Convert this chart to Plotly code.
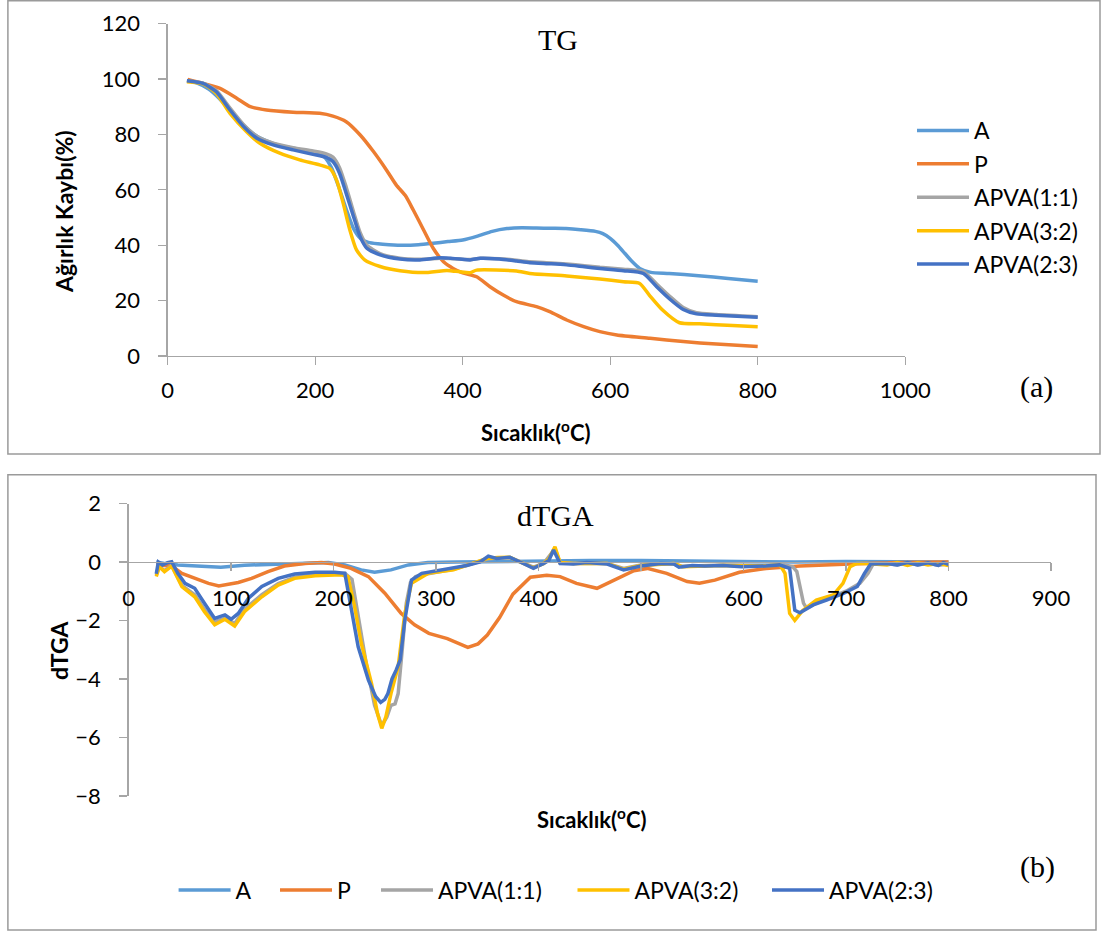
import plotly.graph_objects as go

# ---------------- TG data (temperature °C, weight %) ----------------
tg_A_T = [27, 40, 55, 70, 85, 100, 120, 140, 160, 180, 200, 212, 222, 232, 242, 252, 262, 272, 285, 300, 320, 340, 360, 380, 400, 420, 440, 460, 480, 500, 520, 540, 560, 580, 590, 600, 610, 620, 630, 640, 655, 680, 720, 760, 800]
tg_A_v = [99.5, 98.5, 96.5, 93, 88.5, 84, 79.5, 77, 75.5, 74.5, 73.3, 72, 68, 61, 53, 46, 42.3, 41, 40.5, 40.2, 40, 40.2, 40.7, 41.3, 41.9, 43.3, 45, 46, 46.3, 46.2, 46.1, 46, 45.6, 45, 44.2, 42.5, 40, 37, 34, 31.6, 30.2, 29.8, 29, 28, 27]

tg_P_T = [27, 48, 71, 94, 112, 134, 170, 206, 224, 242, 261, 279, 297, 310, 322, 333, 347, 360, 374, 387, 400, 419, 437, 455, 473, 500, 518, 541, 564, 586, 609, 654, 699, 744, 800]
tg_P_v = [99.8, 98.4, 96.6, 93, 90, 88.8, 88, 87.6, 86.6, 84.6, 79.8, 73.8, 67, 61.7, 58, 52.7, 45.5, 38.9, 34, 31.6, 30, 28.6, 25, 22, 19.6, 17.8, 16, 13, 10.6, 8.8, 7.6, 6.4, 5.2, 4.3, 3.4]

tg_B_T = [26, 48, 66, 84.5, 103, 121, 143, 170, 197, 215, 224, 233, 242, 252, 261, 270, 288, 315, 342, 369, 383, 396, 410, 424, 450, 473, 491, 520, 541, 565, 586, 618, 645, 663, 681, 699, 717, 744, 800]
tg_11_v = [99.4, 98.5, 95.8, 89.5, 83.5, 79.3, 76.8, 75.2, 74, 73, 71.8, 68, 61, 52, 44.5, 40, 37, 35.3, 34.9, 35.3, 35.2, 35, 34.8, 35.3, 35.1, 34.6, 34, 33.6, 33.2, 32.6, 32, 31.3, 30.5, 26, 21.5, 17.5, 15.6, 15, 14.2]
tg_23_v = [99.4, 98.4, 95.4, 88.8, 82.8, 78.6, 76.2, 74.4, 72.8, 71.7, 70.2, 66, 58.7, 50.3, 43, 38.9, 36.5, 35, 34.7, 35.5, 35.3, 35, 34.7, 35.3, 35, 34.3, 33.7, 33.3, 32.9, 32.2, 31.6, 30.8, 29.8, 25, 20.5, 16.8, 15.2, 14.7, 14]

tg_32_T = [26, 48, 66, 84.5, 107, 125, 152, 179, 206, 220, 229, 238, 247, 256, 267, 288, 315, 347, 374, 383, 396, 410, 419, 473, 491, 541, 586, 618, 640, 653, 671, 694, 721, 766, 800]
tg_32_v = [99, 98.2, 94.8, 87.6, 81, 76.8, 73.2, 70.8, 69, 67.7, 63.5, 55.1, 45.5, 38.3, 34.7, 32.3, 30.8, 30.1, 30.8, 30.8, 30.4, 30.1, 31, 30.7, 29.8, 28.9, 27.8, 26.8, 26.2, 22, 16.6, 12, 11.6, 11, 10.6]

# ---------------- dTGA data ----------------
d_A_T = [27, 35, 48, 60, 74, 90, 113, 146, 170, 195, 211, 227, 240, 256, 273, 292, 320, 360, 400, 450, 500, 550, 600, 650, 700, 750, 800]
d_A_v = [0, -0.05, -0.1, -0.13, -0.16, -0.18, -0.11, -0.07, -0.04, -0.02, -0.1, -0.27, -0.35, -0.27, -0.1, -0.02, 0, 0.02, 0.04, 0.05, 0.05, 0.03, 0.02, 0, 0.02, 0.01, 0]

d_P_T = [27, 42, 52, 65, 78, 88, 100, 107, 120, 136, 152, 172, 188, 201, 217, 234, 250, 266, 279, 293, 311, 331, 341, 350, 362, 375, 392, 408, 421, 437, 457, 473, 493, 506, 525, 545, 557, 572, 596, 622, 655, 704, 752, 800]
d_P_v = [-0.1, -0.14, -0.39, -0.56, -0.73, -0.82, -0.75, -0.7, -0.56, -0.33, -0.14, -0.05, -0.02, -0.07, -0.22, -0.5, -1.07, -1.76, -2.15, -2.44, -2.62, -2.92, -2.8, -2.5, -1.9, -1.1, -0.52, -0.45, -0.5, -0.73, -0.9, -0.62, -0.3, -0.22, -0.39, -0.67, -0.73, -0.62, -0.35, -0.22, -0.14, -0.07, -0.02, 0]

d_11_T = [27, 30, 35, 42, 52, 64.5, 74, 84, 94, 103.5, 113, 130, 146, 162, 182, 207, 211, 218, 224, 232, 240, 247, 252, 256, 260, 263, 267, 271, 275, 280, 292, 317, 350, 360, 372, 382, 395, 405, 416, 421, 434, 467, 483, 500, 532, 540, 580, 620, 640, 648, 652, 658.5, 661.5, 671, 687.5, 700, 713.5, 721.5, 726.5, 740, 750, 760, 770, 780, 790, 800]
d_11_v = [-0.45, -0.15, -0.3, -0.12, -0.8, -1.12, -1.62, -2.04, -1.93, -2.1, -1.62, -1.12, -0.74, -0.52, -0.44, -0.4, -0.39, -0.6, -1.9, -3.5, -4.9, -5.6, -5.3, -4.9, -4.85, -4.5, -3.0, -1.4, -0.7, -0.5, -0.4, -0.25, 0.1, 0.14, 0.15, 0, -0.18, -0.05, 0.45, -0.03, -0.05, -0.05, -0.22, -0.1, -0.05, -0.15, -0.1, -0.12, -0.1, -0.16, -0.33, -1.41, -1.58, -1.41, -1.19, -1.0, -0.73, -0.39, -0.07, -0.05, -0.1, -0.03, -0.1, -0.04, -0.12, -0.05]

d_32_T = [27, 30, 35, 42, 52, 64.5, 74, 84, 94, 103.5, 113, 130, 146, 162, 182, 207.5, 214, 220.5, 227, 237, 243, 247, 251, 256, 263, 269.5, 276, 292, 317, 349.5, 360, 372, 382, 395, 405, 410, 416, 421, 434, 467, 483, 500, 532, 540, 580, 620, 635.5, 640.5, 645, 650, 658, 671, 687.5, 697, 704, 710.5, 720, 740, 750, 760, 770, 780, 790, 800]
d_32_v = [-0.5, -0.16, -0.33, -0.14, -0.84, -1.19, -1.7, -2.15, -1.96, -2.19, -1.7, -1.19, -0.79, -0.56, -0.47, -0.44, -0.5, -1.53, -2.78, -4.15, -5.2, -5.69, -5.3, -4.5, -3.58, -1.76, -0.73, -0.39, -0.27, 0.12, 0.15, 0.16, 0, -0.2, -0.05, 0.1, 0.52, -0.02, -0.05, -0.05, -0.25, -0.12, -0.05, -0.16, -0.12, -0.14, -0.1, -0.39, -1.76, -2.0, -1.65, -1.3, -1.13, -0.73, -0.16, -0.05, -0.05, -0.1, -0.02, -0.12, -0.03, -0.1, -0.05, -0.12]

d_23_T = [27, 29, 33, 38, 42, 48, 55, 64.5, 74, 84, 89, 94, 100, 107, 117, 130, 146, 162, 182, 201, 211, 217, 224, 234, 241, 246, 250, 253, 257, 261, 265, 269.5, 276, 286, 300, 317, 330, 343, 351, 359, 372, 382, 395, 405, 410, 414.6, 421, 434, 447, 467, 483, 500, 519, 532, 537, 550, 562, 580, 598, 622, 635, 645, 650, 655, 668, 681, 698, 711, 718, 724, 740, 750, 760, 770, 780, 790, 795, 800]
d_23_v = [-0.4, 0, -0.1, -0.02, 0.01, -0.39, -0.73, -0.9, -1.41, -1.93, -1.87, -1.81, -1.96, -1.76, -1.24, -0.84, -0.56, -0.41, -0.35, -0.35, -0.39, -1.53, -2.9, -4.04, -4.6, -4.8, -4.7, -4.5, -4.0, -3.7, -3.35, -1.98, -0.62, -0.39, -0.3, -0.22, -0.12, 0, 0.2, 0.12, 0.16, 0, -0.22, -0.05, 0.05, 0.41, -0.05, -0.07, -0.02, -0.07, -0.27, -0.14, -0.05, -0.07, -0.18, -0.12, -0.14, -0.12, -0.16, -0.14, -0.1, -0.22, -1.65, -1.74, -1.47, -1.3, -1.07, -0.84, -0.39, -0.07, -0.05, -0.1, -0.02, -0.1, -0.03, -0.12, -0.02, -0.08]

names = ["A", "P", "APVA(1:1)", "APVA(3:2)", "APVA(2:3)"]
colors = ["#5B9BD5", "#ED7D31", "#A5A5A5", "#FFC000", "#4472C4"]

W, H = 1105, 931
def px(x):
    return x / W
def py(y):
    return 1 - y / H

FONT = "Lato"
AXC = "#A6A6A6"

fig = go.Figure()

tg_series = [(tg_A_T, tg_A_v), (tg_P_T, tg_P_v), (tg_B_T, tg_11_v), (tg_32_T, tg_32_v), (tg_B_T, tg_23_v)]
for i, (xs, ys) in enumerate(tg_series):
    fig.add_trace(go.Scatter(x=xs, y=ys, mode="lines", name=names[i],
                             line=dict(color=colors[i], width=3.5, shape="spline", smoothing=0.6),
                             xaxis="x", yaxis="y", legend="legend", legendgroup="tg%d" % i,
                             hoverinfo="skip"))

d_series = [(d_A_T, d_A_v), (d_P_T, d_P_v), (d_11_T, d_11_v), (d_32_T, d_32_v), (d_23_T, d_23_v)]
for i, (xs, ys) in enumerate(d_series):
    fig.add_trace(go.Scatter(x=xs, y=ys, mode="lines", name=names[i],
                             line=dict(color=colors[i], width=3.5),
                             xaxis="x2", yaxis="y2", legend="legend%d" % (i + 2),
                             hoverinfo="skip"))

tickfont = dict(family=FONT, size=22, color="#000000")
common = dict(showline=True, linecolor=AXC, linewidth=1.3, ticks="outside", ticklen=8,
              tickcolor=AXC, tickwidth=1.3, showgrid=False, zeroline=False, tickfont=tickfont,
              automargin=False)

fig.update_layout(
    template="none",
    width=W, height=H,
    autosize=False,
    margin=dict(l=0, r=0, t=0, b=0, pad=0, autoexpand=False),
    paper_bgcolor="white", plot_bgcolor="rgba(0,0,0,0)",
    xaxis=dict(domain=[px(167.7), px(905.2)], range=[0, 1000], dtick=200, anchor="y",
               ticklabelstandoff=6, **common),
    yaxis=dict(domain=[py(356), py(23.6)], range=[0, 120], dtick=20, anchor="x",
               ticklabelstandoff=14, **common),
    xaxis2=dict(domain=[px(128.6), px(1051)], range=[0, 900], dtick=100, anchor="free",
                position=py(562), ticklabelstandoff=8, **common),
    yaxis2=dict(domain=[py(795.9), py(503.5)], range=[-8, 2], dtick=2, anchor="x2",
                ticklabelstandoff=14, **common),
    legend=dict(x=px(912), y=py(109), xanchor="left", yanchor="top", orientation="v",
                xref="container", yref="container",
                font=dict(family=FONT, size=23, color="#000000"), itemwidth=52,
                tracegroupgap=0.5, bgcolor="rgba(0,0,0,0)", borderwidth=0),
    showlegend=True,
)

bottom_leg_x = [178.6, 280, 381, 577.5, 772]
for i, lx in enumerate(bottom_leg_x):
    fig.update_layout({"legend%d" % (i + 2): dict(x=px(lx - 5), y=py(890), xanchor="left", yanchor="middle",
                                                   xref="container", yref="container",
                                                   orientation="h", itemwidth=52, borderwidth=0,
                                                   font=dict(family=FONT, size=23, color="#000000"),
                                                   bgcolor="rgba(0,0,0,0)")})

ann = []
def add_text(text, x, y, size, family, bold=False, angle=0):
    ann.append(dict(text=("<b>%s</b>" % text) if bold else text, x=px(x), y=py(y), xref="paper", yref="paper",
                    showarrow=False, xanchor="center", yanchor="middle", textangle=angle,
                    font=dict(family=family, size=size, color="#000000")))

add_text("TG", 557.5, 40, 30, "Liberation Serif")
add_text("dTGA", 555.5, 515, 30, "Liberation Serif")
add_text("(a)", 1036, 387, 30, "Liberation Serif")
add_text("(b)", 1037, 867, 30, "Liberation Serif")
add_text("Ağırlık Kaybı(%)", 64, 212, 23, FONT, bold=True, angle=-90)
add_text("dTGA", 59, 650, 23, FONT, bold=True, angle=-90)
add_text("Sıcaklık(<sup>o</sup>C)", 535.5, 432, 22, FONT, bold=True)
add_text("Sıcaklık(<sup>o</sup>C)", 591, 818, 22, FONT, bold=True)
fig.update_layout(annotations=ann)

fig.update_layout(shapes=[
    dict(type="rect", xref="paper", yref="paper", x0=px(7.9), x1=px(1100), y0=py(454), y1=py(0.8),
         line=dict(color="#9A9A9A", width=1.5), layer="below"),
    dict(type="rect", xref="paper", yref="paper", x0=px(7.9), x1=px(1096), y0=py(930), y1=py(474.7),
         line=dict(color="#9A9A9A", width=1.5), layer="below"),
])

fig.write_html("out.html",
               config={"displayModeBar": False, "staticPlot": True},
               post_script="document.body.style.margin='0';document.body.style.overflow='hidden';")
